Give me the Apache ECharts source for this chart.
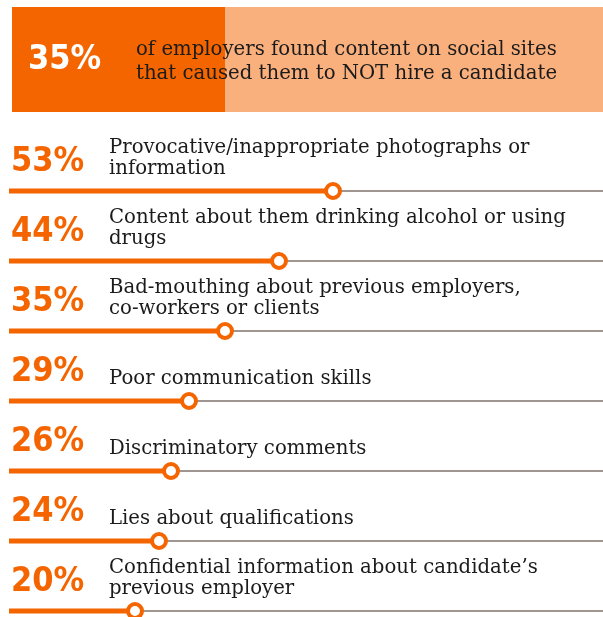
<!DOCTYPE html>
<html>
<head>
<meta charset="utf-8">
<script src="https://cdn.jsdelivr.net/npm/echarts@6/dist/echarts.min.js"></script>
<style>
  html, body { margin: 0; padding: 0; background: #ffffff; }
  #chart { width: 603px; height: 617px; }
</style>
</head>
<body>
<div id="chart"></div>
<script>
// Reasons employers rejected candidates after checking social sites
const categories = [
  'Provocative/inappropriate photographs or\ninformation',
  'Content about them drinking alcohol or using\ndrugs',
  'Bad-mouthing about previous employers,\nco-workers or clients',
  'Poor communication skills',
  'Discriminatory comments',
  'Lies about qualifications',
  'Confidential information about candidate\u2019s\nprevious employer'
];
const values = [53, 44, 35, 29, 26, 24, 20];

// Headline figure shown in the banner
const headlineValue = 35;
const headlineText = 'of employers found content on social sites\nthat caused them to NOT hire a candidate';

const ORANGE = '#F46500';
const LIGHT_ORANGE = '#FAB07D';
const TEXT = '#1b1b1b';
const GRAY = '#7f736c';
const AXIS_MIN = -1;
const AXIS_MAX = 98;

const PCT_FAMILY = "'DejaVu Sans Condensed', 'DejaVu Sans', sans-serif";
const LABEL_FAMILY = "'DejaVu Serif'";
const LABEL_SIZE = 19.7;

const chart = echarts.init(document.getElementById('chart'), null, { renderer: 'canvas' });

function pctText(x, y, text, fill, vAlign) {
  return {
    type: 'text',
    style: {
      x: x, y: y, text: text,
      fontFamily: PCT_FAMILY, fontWeight: 'bold', fontSize: 34,
      fill: fill, align: 'left', verticalAlign: vAlign, lineHeight: 34
    }
  };
}

function labelText(x, y, text, vAlign, lineHeight) {
  return {
    type: 'text',
    style: {
      x: x, y: y, text: text,
      fontFamily: LABEL_FAMILY, fontSize: LABEL_SIZE,
      fill: TEXT, align: 'left', verticalAlign: vAlign, lineHeight: lineHeight
    }
  };
}

function rowItem(params, api) {
  const v = api.value(0);
  const idx = api.value(1);
  const end = api.coord([v, idx]);
  const start = api.coord([AXIS_MIN, idx]);
  const y = end[1];
  return {
    type: 'group',
    children: [
      {
        type: 'line',
        shape: { x1: start[0], y1: y, x2: end[0], y2: y },
        style: { stroke: ORANGE, lineWidth: 5 }
      },
      {
        type: 'circle',
        shape: { cx: end[0], cy: y, r: 7 },
        style: { fill: '#ffffff', stroke: ORANGE, lineWidth: 4 }
      },
      pctText(start[0] + 2, y - 12, v + '%', ORANGE, 'bottom'),
      labelText(109, y - 12, categories[idx], 'bottom', 21)
    ]
  };
}

function bannerItem(params, api) {
  const v = api.value(0);
  const idx = api.value(1);
  const mid = api.coord([v, idx]);
  const left = api.coord([AXIS_MIN, idx])[0] + 3;
  const right = api.coord([AXIS_MAX, idx])[0];
  const h = api.size([0, 1])[1];
  const top = mid[1] - h / 2;
  return {
    type: 'group',
    children: [
      {
        type: 'rect',
        shape: { x: mid[0], y: top, width: right - mid[0], height: h },
        style: { fill: LIGHT_ORANGE }
      },
      {
        type: 'rect',
        shape: { x: left, y: top, width: mid[0] - left, height: h },
        style: { fill: ORANGE }
      },
      pctText(left + 16, mid[1] + 1, v + '%', '#ffffff', 'middle'),
      labelText(136, mid[1] + 2, headlineText, 'middle', 24)
    ]
  };
}

const option = {
  animation: false,
  grid: [
    { left: 9, right: 0, top: 191, height: 420 },
    { left: 9, right: 0, top: 7, height: 105 }
  ],
  xAxis: [
    { gridIndex: 0, type: 'value', min: AXIS_MIN, max: AXIS_MAX, show: false },
    { gridIndex: 1, type: 'value', min: AXIS_MIN, max: AXIS_MAX, show: false }
  ],
  yAxis: [
    {
      gridIndex: 0,
      type: 'category',
      data: categories,
      inverse: true,
      boundaryGap: false,
      axisLine: { show: false },
      axisTick: { show: false },
      axisLabel: { show: false },
      splitLine: { show: true, lineStyle: { color: GRAY, width: 1.5 } }
    },
    {
      gridIndex: 1,
      type: 'category',
      data: ['headline'],
      show: false
    }
  ],
  series: [
    {
      type: 'custom',
      xAxisIndex: 0,
      yAxisIndex: 0,
      renderItem: rowItem,
      encode: { x: 0, y: 1 },
      data: values.map((v, i) => [v, i])
    },
    {
      type: 'custom',
      xAxisIndex: 1,
      yAxisIndex: 1,
      renderItem: bannerItem,
      encode: { x: 0, y: 1 },
      data: [[headlineValue, 0]]
    }
  ]
};

chart.setOption(option);
</script>
</body>
</html>
